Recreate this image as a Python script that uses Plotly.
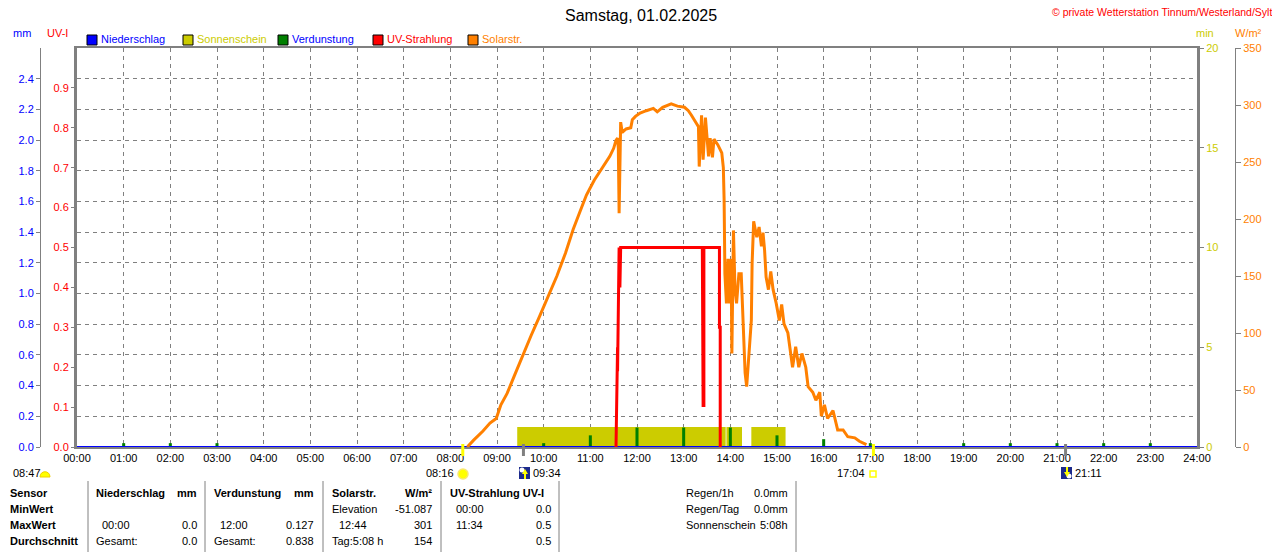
import plotly.graph_objects as go

# ---- values (Samstag, 01.02.2025) ----
hour_ticks = list(range(25))
hour_labels = ["%02d:00" % h for h in hour_ticks]

mm_ticks = [0.0, 0.2, 0.4, 0.6, 0.8, 1.0, 1.2, 1.4, 1.6, 1.8, 2.0, 2.2, 2.4]
uv_ticks = [0.0, 0.1, 0.2, 0.3, 0.4, 0.5, 0.6, 0.7, 0.8, 0.9]
min_ticks = [0, 5, 10, 15, 20]
wm2_ticks = [0, 50, 100, 150, 200, 250, 300, 350]

# Solarstrahlung W/m²
solar_time = ["08:22", "08:23", "08:30", "08:42", "08:51", "08:59", "09:05", "09:13", "09:22",
              "09:34", "09:44", "09:55", "10:06", "10:17", "10:28", "10:38", "10:47", "10:55",
              "11:05", "11:13", "11:20", "11:25", "11:30", "11:33", "11:35", "11:36", "11:37",
              "11:38", "11:39", "11:41", "11:46", "11:52", "11:54", "11:58", "12:04", "12:12",
              "12:21", "12:26", "12:33", "12:44", "12:52", "13:01", "13:06", "13:10", "13:14",
              "13:19", "13:20", "13:23", "13:25", "13:28", "13:32", "13:34", "13:37", "13:39",
              "13:44", "13:49", "13:51", "13:52", "13:53", "13:55", "13:57", "13:59", "14:01",
              "14:02", "14:04", "14:06", "14:08", "14:11", "14:14", "14:16", "14:19", "14:21",
              "14:24", "14:27", "14:28", "14:30", "14:34", "14:37", "14:40", "14:42", "14:44",
              "14:46", "14:49", "14:52", "14:55", "14:59", "15:03", "15:06", "15:09", "15:14",
              "15:20", "15:24", "15:28", "15:32", "15:37", "15:40", "15:46", "15:50", "15:55",
              "15:57", "16:01", "16:05", "16:12", "16:18", "16:25", "16:31", "16:40", "16:46",
              "16:55"]
solar_wm2 = [0, 1, 6, 14, 21, 25, 37, 47, 62,
             82, 98, 115, 133, 150, 170, 191, 207, 221,
             234, 242, 250, 255, 262, 269, 271, 262, 205,
             250, 285, 276, 279, 280, 287, 290, 293, 295,
             297, 294, 298, 301, 299, 298, 295, 291, 287,
             281, 246, 291, 252, 289, 255, 271, 254, 270,
             265, 258, 245, 217, 152, 126, 165, 126, 165,
             82, 190, 138, 126, 152, 152, 114, 65, 53,
             82, 111, 161, 198, 184, 193, 176, 188, 173,
             149, 138, 154, 138, 126, 111, 125, 108, 100,
             70, 88, 70, 82, 70, 53, 48, 41, 48,
             27, 37, 25, 32, 15, 15, 9, 8, 5,
             2]

# UV-Strahlung UV-I
uv_time = ["11:33", "11:34", "11:35", "11:35", "11:36", "11:36", "11:37", "11:37", "11:38",
           "11:38", "11:39", "13:24", "13:25", "13:25", "13:26", "13:26", "13:46", "13:46",
           "13:47", "13:47"]
uv_index = [0.0, 0.19, 0.25, 0.19, 0.4, 0.25, 0.5, 0.4, 0.5,
            0.4, 0.5, 0.5, 0.1, 0.3, 0.1, 0.5, 0.5, 0.3,
            0.3, 0.0]

# Sonnenschein (min per minute)
sun_start = ["09:26", "13:55", "14:27"]
sun_end = ["13:54", "14:15", "15:11"]
sun_min = [1, 1, 1]

# Verdunstung mm
evap_time = ["01:00", "02:00", "03:00", "10:00", "11:00", "12:00", "13:00", "14:00",
             "15:00", "16:00", "17:00", "19:00", "20:00", "21:00", "22:00", "23:00"]
evap_mm = [0.025, 0.025, 0.025, 0.025, 0.076, 0.127, 0.127, 0.127,
           0.076, 0.051, 0.025, 0.025, 0.025, 0.025, 0.025, 0.025]

# Niederschlag mm
rain_time = ["00:00", "24:00"]
rain_mm = [0.0, 0.0]

# Sonnen-/Mondauf- und -untergang
sun_rise, sun_set = "08:16", "17:04"
moon_rise, moon_set = "09:34", "21:11"

FONT = "Liberation Sans, Arial, sans-serif"
GRAY = "#808080"
YEL = "#CCCC00"
ORANGE = "#FF8000"

# the page body adds 8px, so the figure starts 8px in and down
OFF = 8
FIG_W, FIG_H = 1280 - OFF, 552 - OFF
TOP, BOTTOM = 48, 447


def hrs(t):
    h, m = t.split(":")
    return int(h) + int(m) / 60


# screen pixel -> paper fraction (margins are 0 left/right)
def fx(x):
    return (x - OFF) / FIG_W


def fy(y):
    return (BOTTOM - y) / (BOTTOM - TOP)


fig = go.Figure()

fig.add_trace(go.Bar(
    x=[hrs(t) for t in sun_start], y=sun_min,
    width=[hrs(e) - hrs(s) for s, e in zip(sun_start, sun_end)], offset=0,
    marker=dict(color=YEL, line=dict(width=0)), yaxis="y"))

fig.add_trace(go.Bar(
    x=[hrs(t) for t in evap_time], y=evap_mm, width=0.065,
    marker=dict(color="#008000", line=dict(width=0)), yaxis="y2"))

fig.add_trace(go.Scatter(
    x=[hrs(t) for t in rain_time], y=rain_mm, mode="lines",
    line=dict(color="#0000FF", width=2), yaxis="y2"))

fig.add_trace(go.Scatter(
    x=[hrs(t) for t in solar_time], y=solar_wm2, mode="lines",
    line=dict(color=ORANGE, width=3), yaxis="y3"))

fig.add_trace(go.Scatter(
    x=[hrs(t) for t in uv_time], y=uv_index, mode="lines",
    line=dict(color="#FF0000", width=3), yaxis="y4"))

tick_font = dict(family=FONT, size=11)

fig.update_layout(
    width=FIG_W, height=FIG_H,
    margin=dict(l=0, r=0, t=TOP - OFF, b=FIG_H - (BOTTOM - OFF), autoexpand=False),
    paper_bgcolor="white", plot_bgcolor="white",
    showlegend=False, hovermode=False, barmode="overlay",
    font=dict(family=FONT, size=11, color="black"),
    xaxis=dict(
        domain=[fx(77), fx(1197)], range=[0, 24], automargin=False,
        tickvals=hour_ticks, ticktext=hour_labels, ticks="",
        tickfont=dict(tick_font, color="black"),
        showgrid=True, gridcolor=GRAY, griddash="4px,4px", gridwidth=1,
        showline=True, linecolor=GRAY, linewidth=2, mirror=True, zeroline=False),
    # min (Sonnenschein), right side at the frame
    yaxis=dict(
        range=[0, 20], side="right", tickvals=min_ticks, automargin=False,
        ticks="outside", ticklen=4, tickcolor=GRAY,
        tickfont=dict(tick_font, color=YEL),
        showgrid=False, zeroline=False,
        showline=True, linecolor=GRAY, linewidth=3, mirror=True),
    # mm, free axis far left
    yaxis2=dict(
        range=[0, 2.6], overlaying="y", anchor="free", position=fx(40), side="left",
        tickvals=mm_ticks, tickformat=".1f", automargin=False,
        ticks="outside", ticklen=4, tickcolor=GRAY,
        tickfont=dict(tick_font, color="#0000FF"),
        showgrid=True, gridcolor=GRAY, griddash="4px,4px", gridwidth=1,
        showline=True, linecolor=GRAY, linewidth=1, zeroline=False),
    # W/m², free axis far right
    yaxis3=dict(
        range=[0, 350], overlaying="y", anchor="free", position=fx(1235), side="right",
        tickvals=wm2_ticks, ticks="outside", ticklen=5, tickcolor=GRAY, automargin=False,
        tickfont=dict(tick_font, color=ORANGE),
        showgrid=False, zeroline=False,
        showline=True, linecolor=GRAY, linewidth=1),
    # UV-I, left at the frame
    yaxis4=dict(
        range=[0, 1], overlaying="y", anchor="x", side="left", automargin=False,
        tickvals=uv_ticks, tickformat=".1f",
        ticks="outside", ticklen=5, tickcolor=GRAY,
        tickfont=dict(tick_font, color="#FF0000"),
        showgrid=False, zeroline=False, showline=False),
)

ann = []
shapes = []


def text(t, x, y, color="black", size=11, anchor="left", bold=False):
    ann.append(dict(
        text="<b>%s</b>" % t if bold else t, x=fx(x), y=fy(y),
        xref="paper", yref="paper", xanchor=anchor, yanchor="middle",
        showarrow=False, font=dict(family=FONT, size=size, color=color)))


text("Samstag, 01.02.2025", 641, 15, size=16, anchor="center")
text("\u00a9 private Wetterstation Tinnum/Westerland/Sylt", 1274, 12, color="#FF0000",
     size=10.5, anchor="right")

text("mm", 22, 33, color="#0000FF", anchor="center")
text("UV-I", 57, 33, color="#FF0000", anchor="center")
text("min", 1205, 33, color=YEL, anchor="center")
text("W/m\u00b2", 1248, 33, color=ORANGE, anchor="center")

legend = [("Niederschlag", "#0000FF", "#0000FF", 87),
          ("Sonnenschein", YEL, YEL, 183),
          ("Verdunstung", "#008000", "#0000FF", 278),
          ("UV-Strahlung", "#FF0000", "#FF0000", 373),
          ("Solarstr.", ORANGE, ORANGE, 468)]
for name, box, col, x in legend:
    shapes.append(dict(type="rect", xref="paper", yref="paper",
                       x0=fx(x), x1=fx(x + 10), y0=fy(45), y1=fy(35),
                       fillcolor=box, line=dict(color="black", width=1)))
    text(name, x + 12, 39, color=col)

# sun / moon event marks on the time axis
for t, col in [(sun_rise, "#FFFF00"), (sun_set, "#FFFF00"), (moon_rise, GRAY), (moon_set, GRAY)]:
    shapes.append(dict(type="line", xref="x", yref="paper", x0=hrs(t), x1=hrs(t),
                       y0=fy(456), y1=fy(444), line=dict(color=col, width=3)))

# labels under the axis with small icons
text("08:47", 11, 473)
shapes.append(dict(type="path", xref="paper", yref="paper",
                   path="M %f,%f C %f,%f %f,%f %f,%f Z" % (
                       fx(40), fy(477), fx(40), fy(470), fx(50), fy(470), fx(50), fy(477)),
                   fillcolor="#FFFF00", line=dict(color="#F0D000", width=1)))
text(sun_rise, 456, 473, anchor="right")
shapes.append(dict(type="circle", xref="paper", yref="paper",
                   x0=fx(458), x1=fx(468), y0=fy(479), y1=fy(469),
                   fillcolor="#FFFF00", line=dict(color="#F8E870", width=1.5)))
text(sun_set, 867, 473, anchor="right")
shapes.append(dict(type="rect", xref="paper", yref="paper",
                   x0=fx(870), x1=fx(876), y0=fy(477), y1=fy(471),
                   fillcolor="white", line=dict(color="#FFFF00", width=1.5)))
for t, x0, up in [(moon_rise, 519, True), (moon_set, 1061, False)]:
    shapes.append(dict(type="rect", xref="paper", yref="paper",
                       x0=fx(x0), x1=fx(x0 + 11), y0=fy(479), y1=fy(467),
                       fillcolor="#1C2A8C", line=dict(width=0)))
    cx, cy = (x0 + 3, 470) if up else (x0 + 8, 476)
    shapes.append(dict(type="circle", xref="paper", yref="paper",
                       x0=fx(cx - 2.5), x1=fx(cx + 2.5), y0=fy(cy + 2.5), y1=fy(cy - 2.5),
                       fillcolor="white", line=dict(width=0)))
    ax = x0 + 6
    if up:
        p = "M %f,%f L %f,%f L %f,%f Z" % (fx(ax - 3), fy(474), fx(ax + 3), fy(474), fx(ax), fy(469))
        s = (fy(474), fy(479))
    else:
        p = "M %f,%f L %f,%f L %f,%f Z" % (fx(ax - 3), fy(472), fx(ax + 3), fy(472), fx(ax), fy(477))
        s = (fy(467), fy(472))
    shapes.append(dict(type="path", xref="paper", yref="paper", path=p,
                       fillcolor="#FFFF00", line=dict(width=0)))
    shapes.append(dict(type="line", xref="paper", yref="paper", x0=fx(ax), x1=fx(ax),
                       y0=s[0], y1=s[1], line=dict(color="#FFFF00", width=2)))
    text(t, x0 + 12, 473)

# statistics table under the chart
rows_y = [493, 509, 525, 541]
for lab, y in zip(["Sensor", "MinWert", "MaxWert", "Durchschnitt"], rows_y):
    text(lab, 8, y, bold=True)

table = [
    ("Niederschlag", 94, "left", 0, True), ("mm", 199, "right", 0, True),
    ("00:00", 100, "left", 2, False), ("0.0", 199, "right", 2, False),
    ("Gesamt:", 94, "left", 3, False), ("0.0", 199, "right", 3, False),
    ("Verdunstung", 212, "left", 0, True), ("mm", 316, "right", 0, True),
    ("12:00", 218, "left", 2, False), ("0.127", 316, "right", 2, False),
    ("Gesamt:", 212, "left", 3, False), ("0.838", 316, "right", 3, False),
    ("Solarstr.", 330, "left", 0, True), ("W/m\u00b2", 434, "right", 0, True),
    ("Elevation", 330, "left", 1, False), ("-51.087", 434, "right", 1, False),
    ("12:44", 337, "left", 2, False), ("301", 434, "right", 2, False),
    ("Tag:5:08 h", 330, "left", 3, False), ("154", 434, "right", 3, False),
    ("UV-Strahlung UV-I", 448, "left", 0, True),
    ("00:00", 454, "left", 1, False), ("0.0", 553, "right", 1, False),
    ("11:34", 454, "left", 2, False), ("0.5", 553, "right", 2, False),
    ("0.5", 553, "right", 3, False),
    ("Regen/1h", 684, "left", 0, False), ("0.0mm", 790, "right", 0, False),
    ("Regen/Tag", 684, "left", 1, False), ("0.0mm", 790, "right", 1, False),
    ("Sonnenschein", 684, "left", 2, False), ("5:08h", 790, "right", 2, False),
]
for t, x, anc, r, b in table:
    text(t, x, rows_y[r], anchor=anc, bold=b)

for x in [88, 205, 323, 441, 559, 796]:
    shapes.append(dict(type="line", xref="paper", yref="paper", x0=fx(x), x1=fx(x),
                       y0=fy(481), y1=fy(552), line=dict(color=GRAY, width=1)))

fig.update_layout(annotations=ann, shapes=shapes)

fig.write_html("out.html")
